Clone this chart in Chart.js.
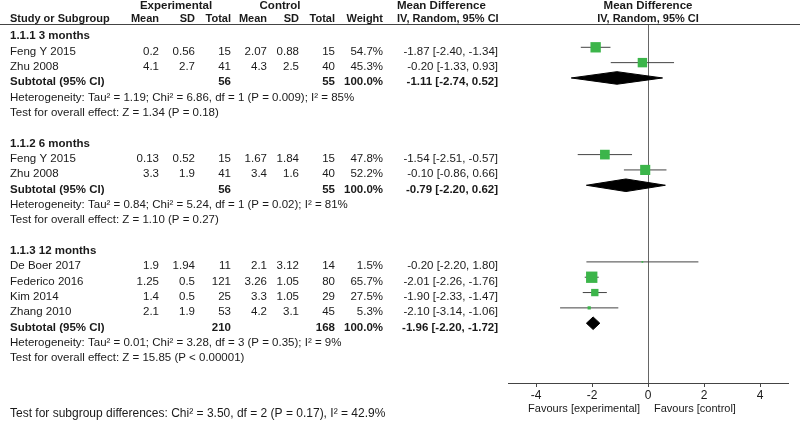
<!DOCTYPE html>
<html>
<head>
<meta charset="utf-8">
<script src="https://cdn.jsdelivr.net/npm/chart.js@4.4.1/dist/chart.umd.min.js"></script>
<style>
  html, body { margin: 0; padding: 0; background: #fff; }
</style>
</head>
<body>
<canvas id="forest" width="800" height="424"></canvas>
<script>
// studies, in display order
const groups = ['1.1.1 3 months', '1.1.2 6 months', '1.1.3 12 months'];
const studyGroup = [0, 0, 1, 1, 2, 2, 2, 2];
const studies = ['Feng Y 2015', 'Zhu 2008', 'Feng Y 2015', 'Zhu 2008', 'De Boer 2017', 'Federico 2016', 'Kim 2014', 'Zhang 2010'];
const expMean = [0.2, 4.1, 0.13, 3.3, 1.9, 1.25, 1.4, 2.1];
const expSD = [0.56, 2.7, 0.52, 1.9, 1.94, 0.5, 0.5, 1.9];
const expN = [15, 41, 15, 41, 11, 121, 25, 53];
const ctlMean = [2.07, 4.3, 1.67, 3.4, 2.1, 3.26, 3.3, 4.2];
const ctlSD = [0.88, 2.5, 1.84, 1.6, 3.12, 1.05, 1.05, 3.1];
const ctlN = [15, 40, 15, 40, 14, 80, 29, 45];
const weights = [54.7, 45.3, 47.8, 52.2, 1.5, 65.7, 27.5, 5.3];
const md = [-1.87, -0.20, -1.54, -0.10, -0.20, -2.01, -1.90, -2.10];
const ciLow = [-2.40, -1.33, -2.51, -0.86, -2.20, -2.26, -2.33, -3.14];
const ciHigh = [-1.34, 0.93, -0.57, 0.66, 1.80, -1.76, -1.47, -1.06];

// subgroup totals
const subExpN = [56, 56, 210];
const subCtlN = [55, 55, 168];
const subMd = [-1.11, -0.79, -1.96];
const subLow = [-2.74, -2.20, -2.20];
const subHigh = [0.52, 0.62, -1.72];
const heterogeneity = [
  'Heterogeneity: Tau² = 1.19; Chi² = 6.86, df = 1 (P = 0.009); I² = 85%',
  'Heterogeneity: Tau² = 0.84; Chi² = 5.24, df = 1 (P = 0.02); I² = 81%',
  'Heterogeneity: Tau² = 0.01; Chi² = 3.28, df = 3 (P = 0.35); I² = 9%'
];
const overallEffect = [
  'Test for overall effect: Z = 1.34 (P = 0.18)',
  'Test for overall effect: Z = 1.10 (P = 0.27)',
  'Test for overall effect: Z = 15.85 (P < 0.00001)'
];
const subgroupTest = 'Test for subgroup differences: Chi² = 3.50, df = 2 (P = 0.17), I² = 42.9%';

const xTicks = [-4, -2, 0, 2, 4];

const FONT = '"Liberation Sans", Arial, sans-serif';
const INK = '#1a1a1a';
const GREEN = '#3cb54a';

// row index of every line in the table
const studyRow = [];
const groupRow = [];
const subRow = [];
let r = 0;
groups.forEach((g, gi) => {
  groupRow.push(r++);
  studies.forEach((s, si) => { if (studyGroup[si] === gi) studyRow[si] = r++; });
  subRow.push(r++);
  r += 3; // heterogeneity, overall effect, blank
});

const f2 = v => v.toFixed(2);
const ciText = (m, lo, hi) => f2(m) + ' [' + f2(lo) + ', ' + f2(hi) + ']';

const datasets = [];
studies.forEach((s, i) => {
  datasets.push({
    data: [{ x: ciLow[i], y: studyRow[i] }, { x: ciHigh[i], y: studyRow[i] }],
    showLine: true, borderColor: '#444', borderWidth: 1, pointRadius: 0, order: 2
  });
});
datasets.push({
  data: studies.map((s, i) => ({ x: md[i], y: studyRow[i] })),
  pointStyle: 'rect',
  pointRadius: weights.map(w => Math.max(1.4, 1.4 * Math.sqrt(w)) / Math.SQRT2),
  backgroundColor: GREEN, borderWidth: 0, order: 0
});
const halfH = 0.41;
groups.forEach((g, gi) => {
  const y0 = subRow[gi];
  datasets.push({
    data: [
      { x: subLow[gi], y: y0 }, { x: subMd[gi], y: y0 - halfH },
      { x: subHigh[gi], y: y0 }, { x: subMd[gi], y: y0 + halfH },
      { x: subLow[gi], y: y0 }
    ],
    showLine: true, fill: 'shape', borderColor: '#000', backgroundColor: '#000',
    borderWidth: 1, pointRadius: 0, order: 1
  });
});

// right edges of the numeric columns
const cols = { expMean: 159, expSD: 195, expN: 231, ctlMean: 267, ctlSD: 299, ctlN: 335, weight: 383, md: 498 };

const tablePlugin = {
  id: 'table',
  afterDraw(chart) {
    const ctx = chart.ctx;
    const ys = chart.scales.y;
    const xs = chart.scales.x;
    const zero = xs.getPixelForValue(0);
    const txt = (s, px, py, align, bold, size) => {
      ctx.font = (bold ? 'bold ' : '') + (size || 11.5) + 'px ' + FONT;
      ctx.textAlign = align;
      ctx.fillText(s, px, py);
    };
    const base = row => ys.getPixelForValue(row) + 7.5;

    ctx.save();
    ctx.fillStyle = INK;
    ctx.textBaseline = 'alphabetic';

    // header
    txt('Experimental', 176, 9, 'center', true);
    txt('Control', 280, 9, 'center', true);
    txt('Mean Difference', 397, 9, 'left', true);
    txt('Mean Difference', zero, 9, 'center', true);
    txt('Study or Subgroup', 10, 22, 'left', true, 11);
    txt('Mean', cols.expMean, 22, 'right', true, 11);
    txt('SD', cols.expSD, 22, 'right', true, 11);
    txt('Total', cols.expN, 22, 'right', true, 11);
    txt('Mean', cols.ctlMean, 22, 'right', true, 11);
    txt('SD', cols.ctlSD, 22, 'right', true, 11);
    txt('Total', cols.ctlN, 22, 'right', true, 11);
    txt('Weight', cols.weight, 22, 'right', true, 11);
    txt('IV, Random, 95% CI', 397, 22, 'left', true, 11);
    txt('IV, Random, 95% CI', zero, 22, 'center', true, 11);

    ctx.strokeStyle = '#444';
    ctx.lineWidth = 1;
    ctx.beginPath();
    ctx.moveTo(0, 24.5);
    ctx.lineTo(800, 24.5);
    ctx.stroke();

    groups.forEach((g, gi) => {
      txt(g, 10, base(groupRow[gi]), 'left', true);
      studies.forEach((s, i) => {
        if (studyGroup[i] !== gi) return;
        const y = base(studyRow[i]);
        txt(s, 10, y, 'left');
        txt(String(expMean[i]), cols.expMean, y, 'right');
        txt(String(expSD[i]), cols.expSD, y, 'right');
        txt(String(expN[i]), cols.expN, y, 'right');
        txt(String(ctlMean[i]), cols.ctlMean, y, 'right');
        txt(String(ctlSD[i]), cols.ctlSD, y, 'right');
        txt(String(ctlN[i]), cols.ctlN, y, 'right');
        txt(weights[i].toFixed(1) + '%', cols.weight, y, 'right');
        txt(ciText(md[i], ciLow[i], ciHigh[i]), cols.md, y, 'right');
      });
      const ys0 = base(subRow[gi]);
      const wSum = weights.filter((w, i) => studyGroup[i] === gi).reduce((a, b) => a + b, 0);
      txt('Subtotal (95% CI)', 10, ys0, 'left', true);
      txt(String(subExpN[gi]), cols.expN, ys0, 'right', true);
      txt(String(subCtlN[gi]), cols.ctlN, ys0, 'right', true);
      txt(wSum.toFixed(1) + '%', cols.weight, ys0, 'right', true);
      txt(ciText(subMd[gi], subLow[gi], subHigh[gi]), cols.md, ys0, 'right', true);
      txt(heterogeneity[gi], 10, base(subRow[gi] + 1), 'left');
      txt(overallEffect[gi], 10, base(subRow[gi] + 2), 'left');
    });

    txt('Favours [experimental]', zero - 8, 412, 'right', false, 11);
    txt('Favours [control]', zero + 6, 412, 'left', false, 11);
    txt(subgroupTest, 10, 417, 'left', false, 12);
    ctx.restore();
  }
};

Chart.defaults.font.family = FONT;
Chart.defaults.font.size = 11;
Chart.defaults.color = INK;

new Chart(document.getElementById('forest'), {
  type: 'scatter',
  data: { datasets: datasets },
  options: {
    responsive: false,
    animation: false,
    layout: { padding: { left: 508, right: 12, top: 24, bottom: 0 } },
    plugins: { legend: { display: false }, tooltip: { enabled: false } },
    scales: {
      x: {
        type: 'linear',
        min: -5,
        max: 5,
        afterBuildTicks: scale => { scale.ticks = xTicks.map(v => ({ value: v })); },
        afterFit: scale => { scale.height = 41; },
        border: { display: true, color: '#444', width: 1 },
        grid: {
          drawOnChartArea: true,
          color: c => (c.tick && c.tick.value === 0 ? '#666' : 'rgba(0,0,0,0)'),
          tickColor: '#444',
          tickLength: 4
        },
        ticks: { padding: 1, color: INK, font: { size: 12 }, maxRotation: 0 }
      },
      y: {
        type: 'linear',
        min: -0.52,
        max: 22.9,
        reverse: true,
        display: false
      }
    }
  },
  plugins: [tablePlugin]
});
</script>
</body>
</html>
